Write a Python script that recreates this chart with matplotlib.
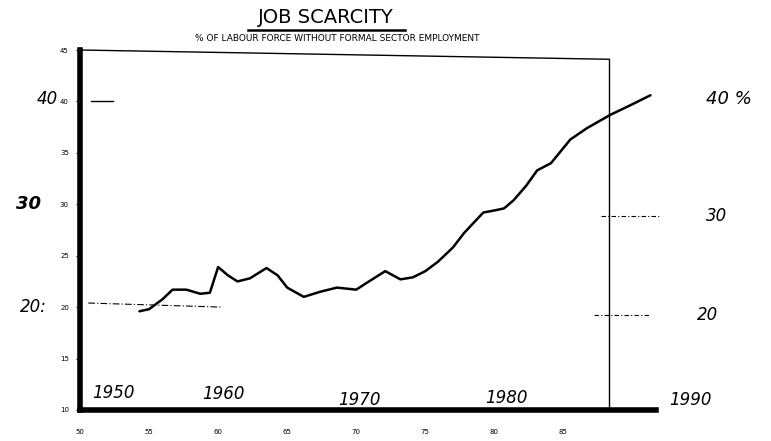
import numpy as np
import matplotlib.pyplot as plt

# job scarcity curve
years = [54.3, 55.0, 56.0, 56.7, 57.7, 58.7, 59.4, 60.0, 60.7, 61.4, 62.3, 63.5, 64.3, 65.0,
         66.2, 67.4, 68.6, 70.0, 70.8, 72.1, 73.2, 74.1, 75.0, 75.9, 77.0, 77.8, 79.2, 80.0,
         80.7, 81.4, 82.3, 83.1, 84.1, 85.5, 86.7, 88.4, 89.8, 91.3]
values = [19.6, 19.8, 20.8, 21.7, 21.7, 21.3, 21.4, 23.9, 23.1, 22.5, 22.8, 23.8, 23.1, 21.9,
          21.0, 21.5, 21.9, 21.7, 22.4, 23.5, 22.7, 22.9, 23.5, 24.4, 25.8, 27.2, 29.2, 29.4,
          29.6, 30.4, 31.8, 33.3, 34.0, 36.3, 37.4, 38.7, 39.6, 40.6]

y_ticks = [10, 15, 20, 25, 30, 35, 40, 45]
x_ticks = [50, 55, 60, 65, 70, 75, 80, 85]

# hand written notes on the print-out
decade_labels = ["1950", "1960", "1970", "1980", "1990"]
decade_x = [52.4, 60.4, 70.2, 80.9, 94.2]
decade_y = [11.7, 11.6, 11.0, 11.2, 11.0]

title = "JOB SCARCITY"
subtitle = "% OF LABOUR FORCE WITHOUT FORMAL SECTOR EMPLOYMENT"

fig = plt.figure(figsize=(7.71, 4.41), dpi=100)
ax = fig.add_axes([0.1038, 0.0703, 0.747, 0.8163])
ax.set_xlim(50, 91.7)
ax.set_ylim(10, 45)

# the printed curve
ax.plot(years, values, color="black", lw=1.8, solid_capstyle="round", clip_on=False)

# box: thick left and bottom, thin top and right
ax.spines["left"].set_linewidth(4)
ax.spines["bottom"].set_linewidth(4)
ax.spines["top"].set_visible(False)
ax.spines["right"].set_visible(False)
ax.plot([50, 88.3], [45, 44.1], color="black", lw=1, clip_on=False)
ax.plot([88.3, 88.3], [44.1, 10], color="black", lw=1, clip_on=False)

ax.set_yticks(y_ticks)
ax.set_yticklabels([str(v) for v in y_ticks], fontsize=5)
ax.tick_params(axis="y", length=3, width=0.8, pad=5)
ax.set_xticks(x_ticks)
ax.set_xticklabels([str(v) for v in x_ticks], fontsize=5)
ax.tick_params(axis="x", length=0, pad=14)

# titles
fig.text(0.423, 0.961, title, fontsize=14, ha="center", va="center")
fig.add_artist(plt.Line2D([0.322, 0.525], [0.931, 0.931], color="black", lw=1.8))
fig.text(0.438, 0.912, subtitle, fontsize=6.5, ha="center", va="center")

# hand drawn marks
ax.plot([50.6, 60.3], [20.4, 20.0], color="black", lw=0.8, ls=(0, (6, 2, 1, 2)), clip_on=False)
ax.plot([50.8, 52.4], [40.0, 40.0], color="black", lw=1, clip_on=False)
ax.plot([87.7, 92.0], [28.9, 28.9], color="black", lw=0.8, ls=(0, (4, 2, 1, 2)), clip_on=False)
ax.plot([87.2, 91.3], [19.2, 19.2], color="black", lw=0.8, ls=(0, (4, 2, 1, 2)), clip_on=False)

hand = dict(style="italic", color="black", clip_on=False, ha="center", va="center")
ax.text(47.6, 40.2, "40", fontsize=12, **hand)
ax.text(46.3, 30.0, "30", fontsize=13, fontweight="bold", **hand)
ax.text(46.6, 20.0, "20:", fontsize=12, **hand)
ax.text(97.0, 40.2, "40 %", fontsize=13, **hand)
ax.text(96.1, 28.9, "30", fontsize=12, **hand)
ax.text(95.4, 19.2, "20", fontsize=12, **hand)
for lab, x, y in zip(decade_labels, decade_x, decade_y):
    ax.text(x, y, lab, fontsize=12, **hand)

fig.savefig("out.png", dpi=100)
